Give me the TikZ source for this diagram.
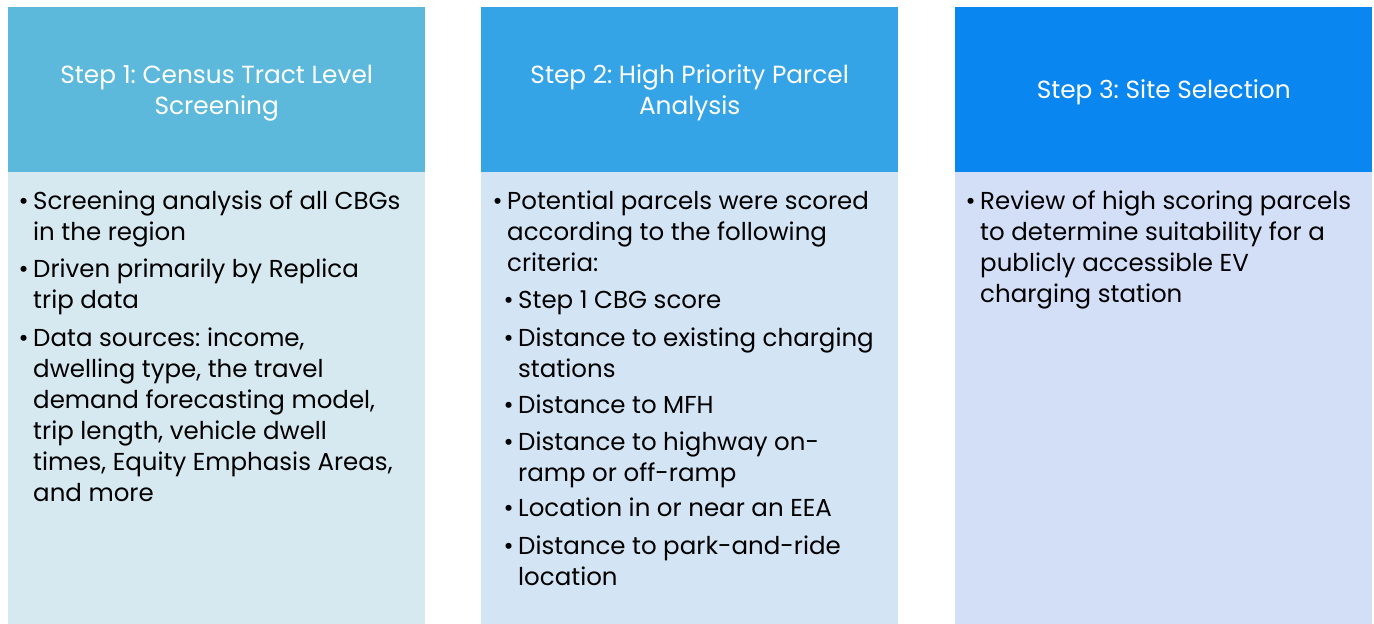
\documentclass[tikz,border=0pt]{standalone}
\usepackage{fontspec}
\setmainfont{Poppins}
\frenchspacing
\definecolor{hA}{HTML}{5DB9DB}
\definecolor{bA}{HTML}{D6E9F0}
\definecolor{hB}{HTML}{35A4E6}
\definecolor{bB}{HTML}{D3E4F5}
\definecolor{hC}{HTML}{0A86F0}
\definecolor{bC}{HTML}{D3DEF7}
\tikzset{
  head/.style={fill=#1, draw=none, minimum width=417pt, minimum height=165pt, inner sep=0pt, anchor=north west},
  body/.style={fill=#1, draw=none, minimum width=417pt, minimum height=452pt, inner sep=0pt, anchor=north west},
  htext/.style={text=white, align=center, inner sep=0pt, font=\fontsize{24.8}{31}\selectfont},
  item/.style={anchor=north west, align=left, inner sep=0pt, font=\fontsize{24.5}{31}\selectfont, text=black},
  bul/.style={anchor=north east, inner sep=0pt, font=\fontsize{24.5}{31}\selectfont}
}
\newcommand{\bulletfor}[1]{\node[bul] at ([xshift=-4pt]#1.north west) {\strut•};}
\begin{document}
\begin{tikzpicture}[x=1pt,y=-1pt]
\useasboundingbox (0,0) rectangle (1374,624);
\fill[white] (0,0) rectangle (1374,624);
% column 1
\node[head=hA] (h1) at (8,7) {};
\node[body=bA] (b1) at (8,172) {};
\node[htext] (t1) at ([yshift=-3pt]h1.center) {Step 1: Census Tract Level\\Screening};
\node[item] (i11) at (33,187.3) {\strut Screening analysis of all CBGs\\in the region};
\node[item] (i12) at (33,255.3) {\strut Driven primarily by Replica\\trip data};
\node[item] (i13) at (33,324.3) {\strut Data sources: income,\\dwelling type, the travel\\demand forecasting model,\\trip length, vehicle dwell\\times, Equity Emphasis Areas,\\and more};
\foreach \n in {i11,i12,i13}{\bulletfor{\n}}
% column 2
\node[head=hB] (h2) at (481,7) {};
\node[body=bB] (b2) at (481,172) {};
\node[htext] (t2) at ([yshift=-3pt]h2.center) {Step 2: High Priority Parcel\\Analysis};
\node[item] (i21) at (507,187.3) {\strut Potential parcels were scored\\according to the following\\criteria:};
\node[item] (i22) at (518,286.3) {\strut Step 1 CBG score};
\node[item] (i23) at (518,324.3) {\strut Distance to existing charging\\stations};
\node[item] (i24) at (518,391.3) {\strut Distance to MFH};
\node[item] (i25) at (518,428.3) {\strut Distance to highway on-\\ramp or off-ramp};
\node[item] (i26) at (518,494.3) {\strut Location in or near an EEA};
\node[item] (i27) at (518,532.3) {\strut Distance to park-and-ride\\location};
\foreach \n in {i21,i22,i23,i24,i25,i26,i27}{\bulletfor{\n}}
% column 3
\node[head=hC] (h3) at (955,7) {};
\node[body=bC] (b3) at (955,172) {};
\node[htext] (t3) at ([yshift=-3pt]h3.center) {Step 3: Site Selection};
\node[item] (i31) at (980,187.3) {\strut Review of high scoring parcels\\to determine suitability for a\\publicly accessible EV\\charging station};
\bulletfor{i31}
\end{tikzpicture}
\end{document}
